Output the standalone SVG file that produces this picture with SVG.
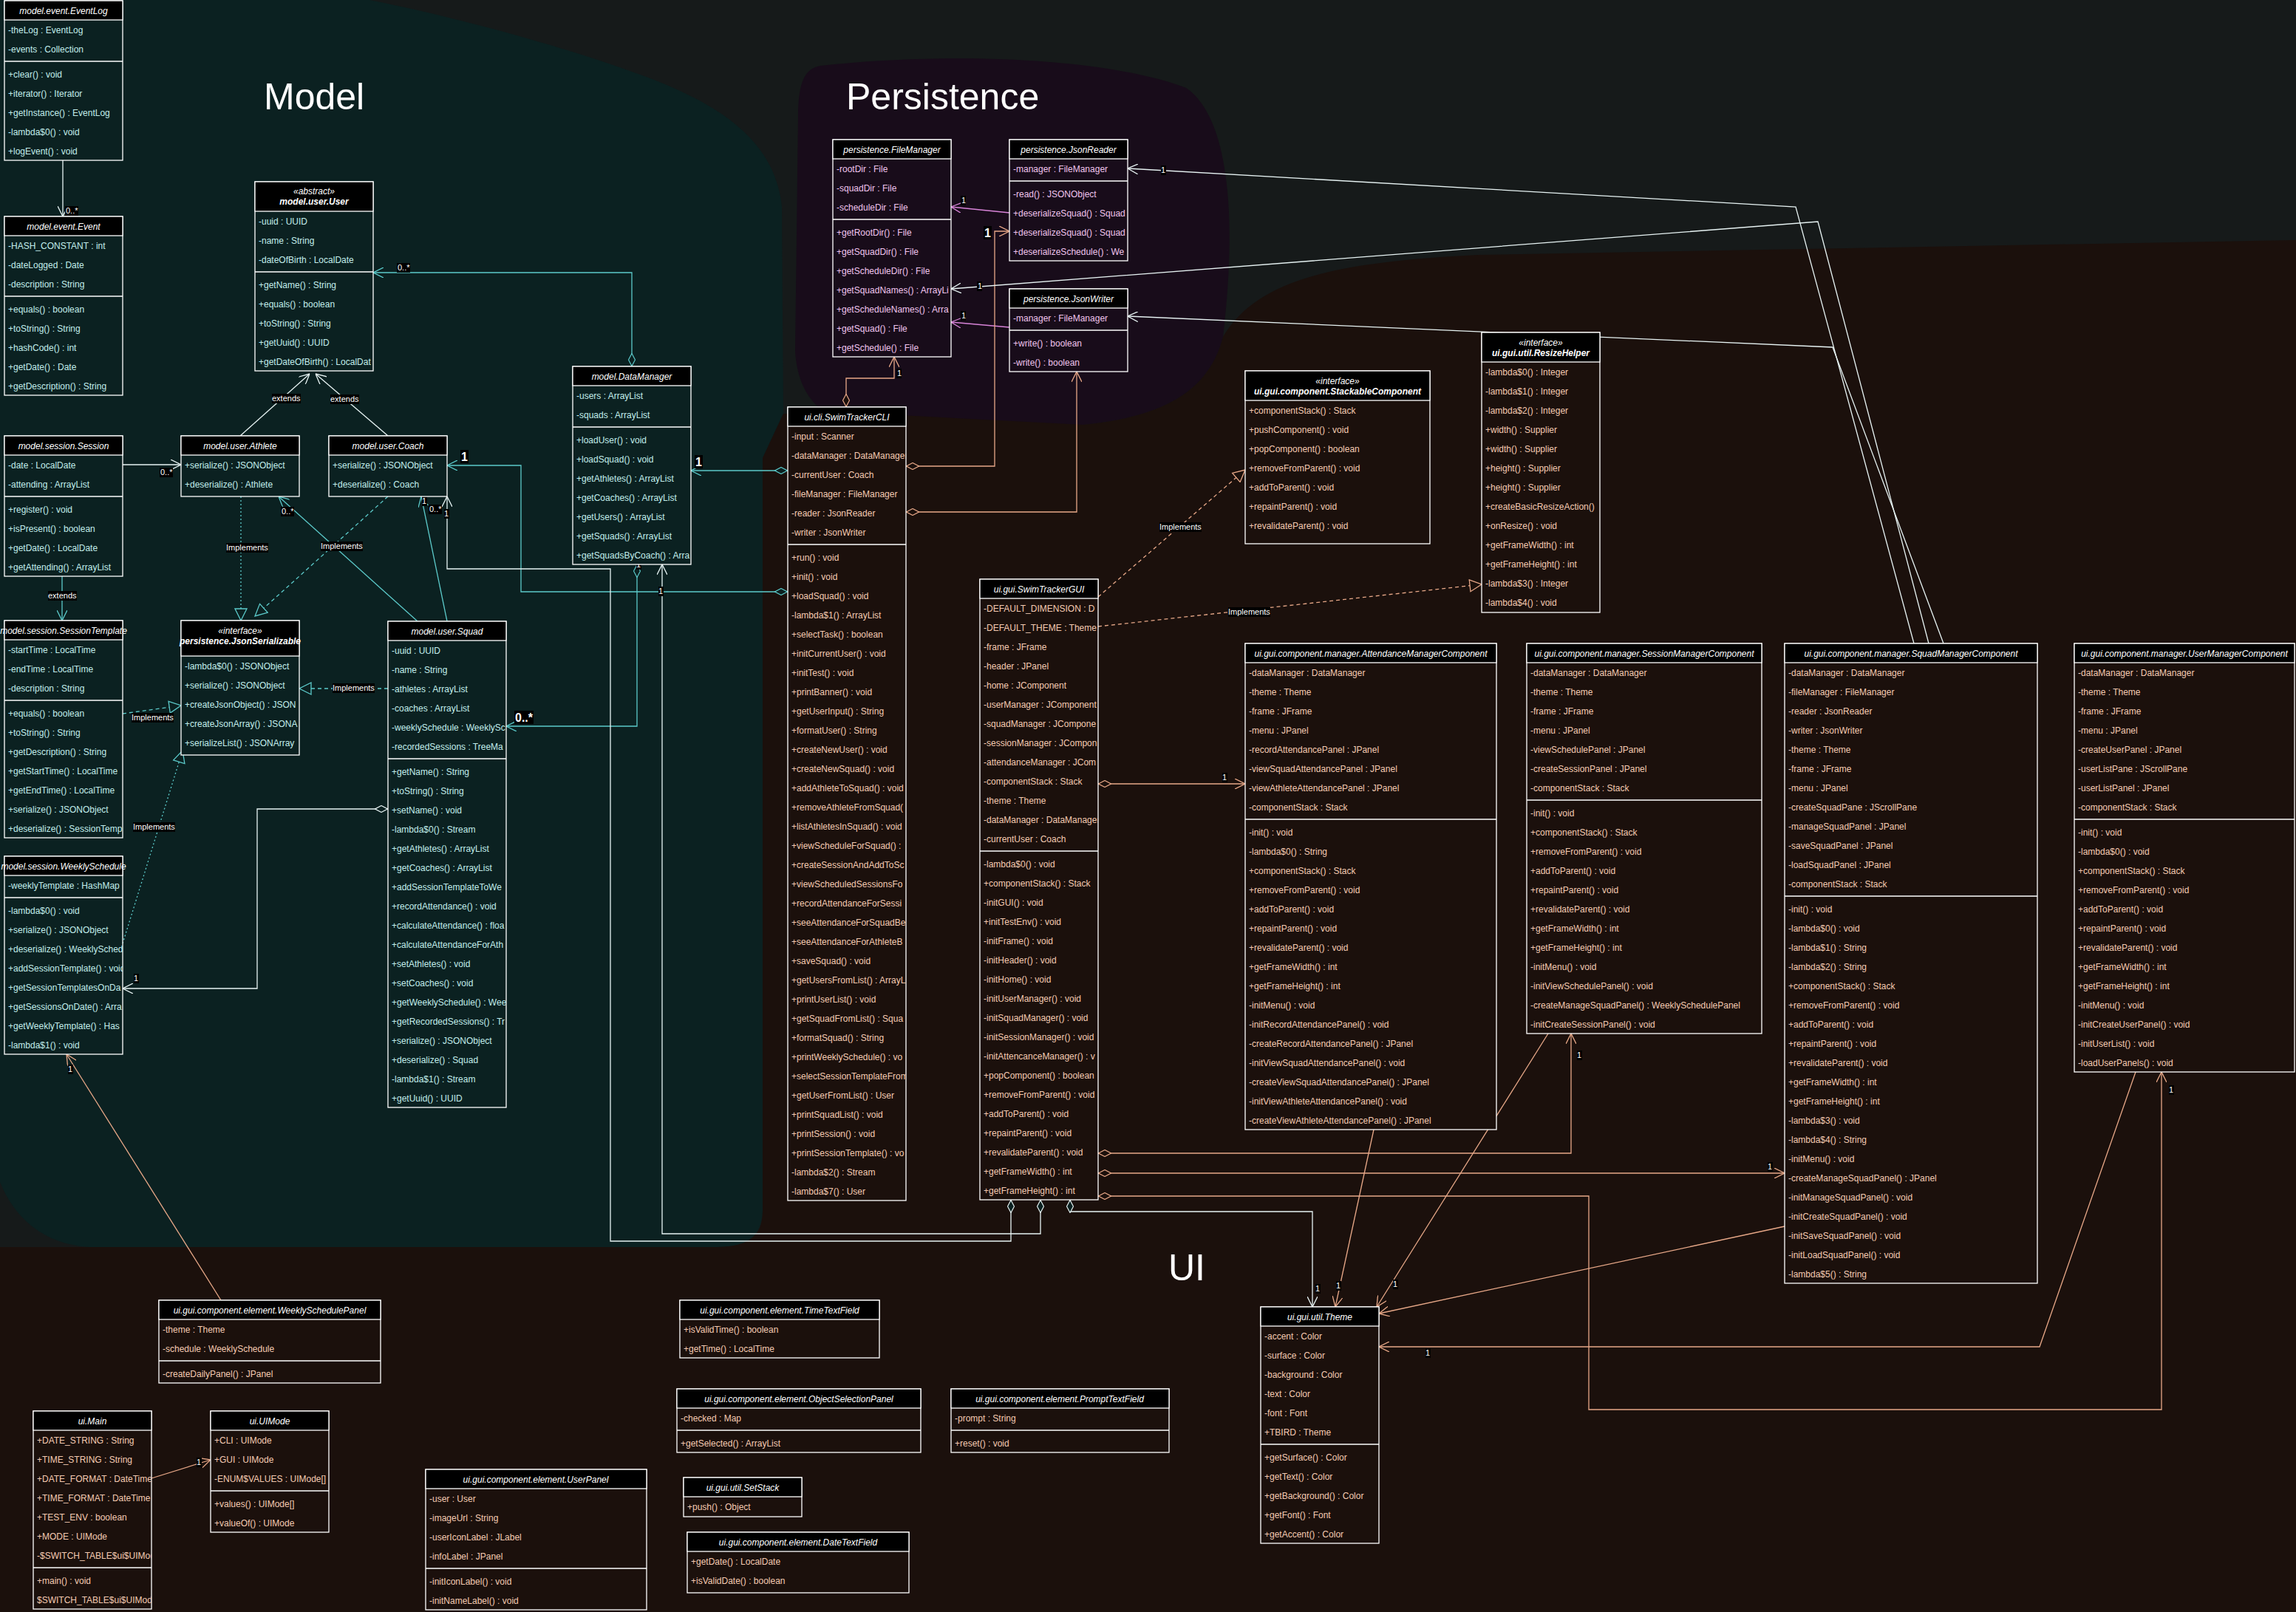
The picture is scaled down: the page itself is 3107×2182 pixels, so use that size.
<svg xmlns="http://www.w3.org/2000/svg" width="3107" height="2182" viewBox="0 0 3107 2182">
<style>
.b{stroke:#fff;stroke-width:1.3}
.h{fill:#000;stroke:#fff;stroke-width:1.3}
.s{stroke:#fff;stroke-width:1.3}
.fm{fill:#0b2121}.fp{fill:#180c1a}.fu{fill:#1b100c}
.ht{font-family:"Liberation Sans",Arial,sans-serif;font-size:12px;font-style:italic;fill:#fff;text-anchor:middle}
.hb{font-weight:bold}
.t{font-family:"Liberation Sans",Arial,sans-serif;font-size:12px}
.m{fill:#c2eeec}.p{fill:#f0c4ee}.u{fill:#f5cbb2}
.c{fill:none;stroke-width:1.3}
.cw{stroke:#e8f4f4}.ct{stroke:#5ccaca}.cp{stroke:#d884d8}.co{stroke:#e8a888}
.dsh{stroke-dasharray:5 4}.dot{stroke-dasharray:2 3}
.lb{font-family:"Liberation Sans",Arial,sans-serif;font-size:11px;fill:#fff}
.lg{font-size:16px;font-weight:bold}
.lbg{fill:#000}
.big{font-family:"Liberation Sans",Arial,sans-serif;font-size:50px;fill:#fff}
</style>
<defs>
<marker id="aw" viewBox="0 0 14 14" refX="14" refY="7" markerWidth="14" markerHeight="14" markerUnits="userSpaceOnUse" orient="auto"><path d="M0,0 L14,7 L0,14" fill="none" stroke="#e8f4f4" stroke-width="1.3"/></marker>
<marker id="at" viewBox="0 0 14 14" refX="14" refY="7" markerWidth="14" markerHeight="14" markerUnits="userSpaceOnUse" orient="auto"><path d="M0,0 L14,7 L0,14" fill="none" stroke="#5ccaca" stroke-width="1.3"/></marker>
<marker id="ap" viewBox="0 0 14 14" refX="14" refY="7" markerWidth="14" markerHeight="14" markerUnits="userSpaceOnUse" orient="auto"><path d="M0,0 L14,7 L0,14" fill="none" stroke="#d884d8" stroke-width="1.3"/></marker>
<marker id="ao" viewBox="0 0 14 14" refX="14" refY="7" markerWidth="14" markerHeight="14" markerUnits="userSpaceOnUse" orient="auto"><path d="M0,0 L14,7 L0,14" fill="none" stroke="#e8a888" stroke-width="1.3"/></marker>
<marker id="tt" viewBox="0 0 18 18" refX="17" refY="9" markerWidth="18" markerHeight="18" markerUnits="userSpaceOnUse" orient="auto"><path d="M1,1 L17,9 L1,17 Z" fill="#0b2121" stroke="#5ccaca" stroke-width="1.3"/></marker>
<marker id="to" viewBox="0 0 18 18" refX="17" refY="9" markerWidth="18" markerHeight="18" markerUnits="userSpaceOnUse" orient="auto"><path d="M1,1 L17,9 L1,17 Z" fill="#1b100c" stroke="#e8a888" stroke-width="1.3"/></marker>
<marker id="dw" viewBox="0 0 18 10" refX="0" refY="5" markerWidth="18" markerHeight="10" markerUnits="userSpaceOnUse" orient="auto"><path d="M0.5,5 L9,0.5 L17.5,5 L9,9.5 Z" fill="#0b2121" stroke="#e8f4f4" stroke-width="1.2"/></marker>
<marker id="dt" viewBox="0 0 18 10" refX="0" refY="5" markerWidth="18" markerHeight="10" markerUnits="userSpaceOnUse" orient="auto"><path d="M0.5,5 L9,0.5 L17.5,5 L9,9.5 Z" fill="#0b2121" stroke="#5ccaca" stroke-width="1.2"/></marker>
<marker id="do" viewBox="0 0 18 10" refX="0" refY="5" markerWidth="18" markerHeight="10" markerUnits="userSpaceOnUse" orient="auto"><path d="M0.5,5 L9,0.5 L17.5,5 L9,9.5 Z" fill="#1b100c" stroke="#e8a888" stroke-width="1.2"/></marker>
<clipPath id="kST"><rect x="6" y="840" width="160" height="294"/></clipPath>
<clipPath id="kWS"><rect x="6" y="1159" width="160" height="268"/></clipPath>
<clipPath id="kUS"><rect x="345" y="246" width="160" height="256"/></clipPath>
<clipPath id="kJS"><rect x="245" y="840" width="160" height="182"/></clipPath>
<clipPath id="kSQ"><rect x="525" y="841" width="160" height="658"/></clipPath>
<clipPath id="kDM"><rect x="775" y="496" width="160" height="268"/></clipPath>
<clipPath id="kFM"><rect x="1127" y="189" width="160" height="294"/></clipPath>
<clipPath id="kJR"><rect x="1366" y="189" width="160" height="164"/></clipPath>
<clipPath id="kCL"><rect x="1066" y="551" width="160" height="1074"/></clipPath>
<clipPath id="kGU"><rect x="1326" y="784" width="160" height="840"/></clipPath>
<clipPath id="kMA"><rect x="45" y="1910" width="160" height="268"/></clipPath>
</defs>

<g id="background">
<rect x="0" y="0" width="3107" height="2182" fill="#161a1a"/>
<path d="M0,0 L500,0 C600,20 760,60 890,110 C990,150 1050,200 1058,280 L1060,560 L1032,620 L1032,1640 C1030,1675 1010,1688 970,1688 L120,1688 C60,1684 20,1650 0,1600 Z" fill="#0b2121"/>
<path d="M1110,89 C1290,69 1500,79 1605,119 C1664,159 1674,297 1655,456 C1635,535 1565,565 1466,575 L1189,579 C1110,575 1080,535 1076,476 L1080,159 C1080,109 1090,93 1110,89 Z" fill="#180c1a"/>
<path d="M0,1688 L970,1688 C1010,1688 1032,1675 1032,1640 L1032,620 L1060,560 L1180,560 L1466,575 C1565,565 1635,535 1655,456 C1700,380 1800,355 2000,345 L3107,325 L3107,2182 L0,2182 Z" fill="#1b100c"/>
<text class="big" x="357" y="148">Model</text>
<text class="big" x="1145" y="148">Persistence</text>
<text class="big" x="1581" y="1733">UI</text>
</g>

<g id="connectors">
<path class="c cw" d="M85,217 L85,293" marker-end="url(#aw)"/>
<path class="c cw" d="M166,629 L245,629" marker-end="url(#aw)"/>
<path class="c ct" d="M84,780 L84,840" marker-end="url(#at)"/>
<path class="c ct dsh" d="M166,966 L245,955" marker-end="url(#tt)"/>
<path class="c ct dot" d="M166,1277 L247,1016" marker-end="url(#tt)"/>
<path class="c cw" d="M525,1095 L348,1095 L348,1338 L166,1338" marker-start="url(#dw)" marker-end="url(#aw)"/>
<path class="c cw" d="M325,590 L419,506" marker-end="url(#aw)"/>
<path class="c cw" d="M525,590 L427,506" marker-end="url(#aw)"/>
<path class="c ct dot" d="M326,672 L326,840" marker-end="url(#tt)"/>
<path class="c ct dsh" d="M525,672 L345,834" marker-end="url(#tt)"/>
<path class="c ct" d="M565,841 L377,672" marker-end="url(#at)"/>
<path class="c ct" d="M605,841 L570,672" marker-end="url(#at)"/>
<path class="c ct dsh" d="M525,932 L405,932" marker-end="url(#tt)"/>
<path class="c ct" d="M855,496 L855,369 L505,369" marker-start="url(#dt)" marker-end="url(#at)"/>
<path class="c ct" d="M862,764 L862,983 L685,983" marker-start="url(#dt)" marker-end="url(#at)"/>
<path class="c ct" d="M1066,637 L935,637" marker-start="url(#dt)" marker-end="url(#at)"/>
<path class="c ct" d="M1066,801 L705,801 L705,630 L605,630" marker-start="url(#dt)" marker-end="url(#at)"/>
<path class="c cw" d="M1368,1624 L1368,1680 L826,1680 L826,770 L605,770 L605,672" marker-start="url(#dw)" marker-end="url(#aw)"/>
<path class="c cw" d="M1408,1624 L1408,1670 L896,1670 L896,764" marker-start="url(#dw)" marker-end="url(#aw)"/>
<path class="c cp" d="M1366,288 L1287,280" marker-end="url(#ap)"/>
<path class="c cp" d="M1366,443 L1287,436" marker-end="url(#ap)"/>
<path class="c co" d="M1145,551 L1145,512 L1210,512 L1210,483" marker-start="url(#do)" marker-end="url(#ao)"/>
<path class="c co" d="M1226,631 L1346,631 L1346,313 L1366,313" marker-start="url(#do)" marker-end="url(#ao)"/>
<path class="c co" d="M1226,693 L1457,693 L1457,503" marker-start="url(#do)" marker-end="url(#ao)"/>
<path class="c co dsh" d="M1486,808 L1685,636" marker-end="url(#to)"/>
<path class="c co dsh" d="M1486,848 L2005,791" marker-end="url(#to)"/>
<path class="c co" d="M1486,1061 L1685,1061" marker-start="url(#do)" marker-end="url(#ao)"/>
<path class="c co" d="M1486,1561 L2126,1561 L2126,1399" marker-start="url(#do)" marker-end="url(#ao)"/>
<path class="c co" d="M1486,1588 L2415,1588" marker-start="url(#do)" marker-end="url(#ao)"/>
<path class="c co" d="M1486,1619 L2150,1619 L2150,1908 L2925,1908 L2925,1451" marker-start="url(#do)" marker-end="url(#ao)"/>
<path class="c cw" d="M1448,1624 L1448,1640 L1776,1640 L1776,1769" marker-start="url(#dw)" marker-end="url(#aw)"/>
<path class="c co" d="M1859,1529 L1807,1769" marker-end="url(#ao)"/>
<path class="c co" d="M2095,1399 L1863,1769" marker-end="url(#ao)"/>
<path class="c co" d="M2415,1660 L1866,1778" marker-end="url(#ao)"/>
<path class="c co" d="M2890,1451 L2760,1823 L1866,1823" marker-end="url(#ao)"/>
<path class="c cw" d="M2590,871 L2430,280 L1526,228" marker-end="url(#aw)"/>
<path class="c cw" d="M2610,871 L2460,300 L1287,391" marker-end="url(#aw)"/>
<path class="c cw" d="M2630,871 L2480,470 L1526,428" marker-end="url(#aw)"/>
<path class="c co" d="M299,1760 L90,1427" marker-end="url(#ao)"/>
<path class="c co" d="M205,2001 L285,1976" marker-end="url(#ao)"/>
<g id="labels">
<rect class="lbg" x="88" y="279" width="18" height="13"/><text class="lb" x="89" y="289">0..*</text>
<rect class="lbg" x="216" y="633" width="18" height="13"/><text class="lb" x="217" y="643">0..*</text>
<rect class="lbg" x="65" y="800" width="39" height="13"/><text class="lb" x="65" y="810">extends</text>
<rect class="lbg" x="178" y="965" width="57" height="13"/><text class="lb" x="178" y="975">Implements</text>
<rect class="lbg" x="180" y="1113" width="57" height="13"/><text class="lb" x="180" y="1123">Implements</text>
<rect class="lbg" x="181" y="1318" width="7" height="13"/><text class="lb" x="181" y="1328">1</text>
<rect class="lbg" x="368" y="533" width="39" height="13"/><text class="lb" x="368" y="543">extends</text>
<rect class="lbg" x="447" y="534" width="39" height="13"/><text class="lb" x="447" y="544">extends</text>
<rect class="lbg" x="306" y="735" width="57" height="13"/><text class="lb" x="306" y="745">Implements</text>
<rect class="lbg" x="434" y="733" width="57" height="13"/><text class="lb" x="434" y="743">Implements</text>
<rect class="lbg" x="380" y="686" width="18" height="13"/><text class="lb" x="381" y="696">0..*</text>
<rect class="lbg" x="571" y="672" width="7" height="13"/><text class="lb" x="571" y="682">1</text>
<rect class="lbg" x="580" y="683" width="18" height="13"/><text class="lb" x="581" y="693">0..*</text>
<rect class="lbg" x="601" y="689" width="7" height="13"/><text class="lb" x="601" y="699">1</text>
<rect class="lbg" x="580" y="1026" width="7" height="11"/><text class="lb" x="580" y="1035">1</text>
<rect class="lbg" x="450" y="925" width="57" height="13"/><text class="lb" x="450" y="935">Implements</text>
<rect class="lbg" x="537" y="356" width="18" height="13"/><text class="lb" x="538" y="366">0..*</text>
<rect class="lbg" x="696" y="962" width="26" height="18"/><text class="lb lg" x="697" y="977">0..*</text>
<rect class="lbg" x="861" y="758" width="7" height="13"/><text class="lb" x="861" y="768">1</text>
<rect class="lbg" x="940" y="616" width="11" height="18"/><text class="lb lg" x="941" y="631">1</text>
<rect class="lbg" x="623" y="609" width="11" height="18"/><text class="lb lg" x="624" y="624">1</text>
<rect class="lbg" x="891" y="794" width="7" height="13"/><text class="lb" x="891" y="804">1</text>
<rect class="lbg" x="1300" y="265" width="7" height="13"/><text class="lb" x="1301" y="275">1</text>
<rect class="lbg" x="1300" y="421" width="7" height="13"/><text class="lb" x="1301" y="431">1</text>
<rect class="lbg" x="1322" y="381" width="7" height="13"/><text class="lb" x="1323" y="391">1</text>
<rect class="lbg" x="1213" y="499" width="7" height="13"/><text class="lb" x="1214" y="509">1</text>
<rect class="lbg" x="1331" y="306" width="11" height="18"/><text class="lb lg" x="1332" y="321">1</text>
<rect class="lbg" x="1569" y="707" width="57" height="13"/><text class="lb" x="1569" y="717">Implements</text>
<rect class="lbg" x="1662" y="822" width="57" height="13"/><text class="lb" x="1662" y="832">Implements</text>
<rect class="lbg" x="1654" y="1046" width="7" height="13"/><text class="lb" x="1654" y="1056">1</text>
<rect class="lbg" x="2134" y="1422" width="7" height="13"/><text class="lb" x="2134" y="1432">1</text>
<rect class="lbg" x="2392" y="1573" width="7" height="13"/><text class="lb" x="2392" y="1583">1</text>
<rect class="lbg" x="2935" y="1469" width="7" height="13"/><text class="lb" x="2935" y="1479">1</text>
<rect class="lbg" x="1780" y="1738" width="7" height="13"/><text class="lb" x="1780" y="1748">1</text>
<rect class="lbg" x="1808" y="1734" width="7" height="13"/><text class="lb" x="1808" y="1744">1</text>
<rect class="lbg" x="1885" y="1732" width="7" height="13"/><text class="lb" x="1885" y="1742">1</text>
<rect class="lbg" x="1929" y="1825" width="7" height="13"/><text class="lb" x="1929" y="1835">1</text>
<rect class="lbg" x="1571" y="224" width="7" height="13"/><text class="lb" x="1571" y="234">1</text>
<rect class="lbg" x="92" y="1441" width="7" height="13"/><text class="lb" x="92" y="1451">1</text>
<rect class="lbg" x="266" y="1973" width="7" height="13"/><text class="lb" x="266" y="1983">1</text>
</g>
</g>

<g id="EventLog">
<rect class="b fm" x="6" y="1" width="160" height="216"/><rect class="h" x="6" y="1" width="160" height="26"/>
<line class="s" x1="6" y1="83" x2="166" y2="83"/>
<text class="ht" x="86" y="18.5">model.event.EventLog</text>
<text class="t m" y="44.5"><tspan x="11">-theLog : EventLog</tspan><tspan x="11" dy="26">-events : Collection</tspan></text>
<text class="t m" y="104.5"><tspan x="11">+clear() : void</tspan><tspan x="11" dy="26">+iterator() : Iterator</tspan><tspan x="11" dy="26">+getInstance() : EventLog</tspan><tspan x="11" dy="26">-lambda$0() : void</tspan><tspan x="11" dy="26">+logEvent() : void</tspan></text>
</g>

<g id="Event">
<rect class="b fm" x="6" y="293" width="160" height="242"/><rect class="h" x="6" y="293" width="160" height="26"/>
<line class="s" x1="6" y1="401" x2="166" y2="401"/>
<text class="ht" x="86" y="310.5">model.event.Event</text>
<text class="t m" y="336.5"><tspan x="11">-HASH_CONSTANT : int</tspan><tspan x="11" dy="26">-dateLogged : Date</tspan><tspan x="11" dy="26">-description : String</tspan></text>
<text class="t m" y="422.5"><tspan x="11">+equals() : boolean</tspan><tspan x="11" dy="26">+toString() : String</tspan><tspan x="11" dy="26">+hashCode() : int</tspan><tspan x="11" dy="26">+getDate() : Date</tspan><tspan x="11" dy="26">+getDescription() : String</tspan></text>
</g>

<g id="Session">
<rect class="b fm" x="6" y="590" width="160" height="190"/><rect class="h" x="6" y="590" width="160" height="26"/>
<line class="s" x1="6" y1="672" x2="166" y2="672"/>
<text class="ht" x="86" y="607.5">model.session.Session</text>
<text class="t m" y="633.5"><tspan x="11">-date : LocalDate</tspan><tspan x="11" dy="26">-attending : ArrayList</tspan></text>
<text class="t m" y="693.5"><tspan x="11">+register() : void</tspan><tspan x="11" dy="26">+isPresent() : boolean</tspan><tspan x="11" dy="26">+getDate() : LocalDate</tspan><tspan x="11" dy="26">+getAttending() : ArrayList</tspan></text>
</g>

<g id="SessionTemplate">
<rect class="b fm" x="6" y="840" width="160" height="294"/><rect class="h" x="6" y="840" width="160" height="26"/>
<line class="s" x1="6" y1="948" x2="166" y2="948"/>
<text class="ht" x="86" y="857.5">model.session.SessionTemplate</text>
<g clip-path="url(#kST)">
<text class="t m" y="883.5"><tspan x="11">-startTime : LocalTime</tspan><tspan x="11" dy="26">-endTime : LocalTime</tspan><tspan x="11" dy="26">-description : String</tspan></text>
<text class="t m" y="969.5"><tspan x="11">+equals() : boolean</tspan><tspan x="11" dy="26">+toString() : String</tspan><tspan x="11" dy="26">+getDescription() : String</tspan><tspan x="11" dy="26">+getStartTime() : LocalTime</tspan><tspan x="11" dy="26">+getEndTime() : LocalTime</tspan><tspan x="11" dy="26">+serialize() : JSONObject</tspan><tspan x="11" dy="26">+deserialize() : SessionTemp</tspan></text>
</g>
</g>

<g id="WeeklySchedule">
<rect class="b fm" x="6" y="1159" width="160" height="268"/><rect class="h" x="6" y="1159" width="160" height="26"/>
<line class="s" x1="6" y1="1215" x2="166" y2="1215"/>
<text class="ht" x="86" y="1176.5">model.session.WeeklySchedule</text>
<g clip-path="url(#kWS)">
<text class="t m" y="1202.5"><tspan x="11">-weeklyTemplate : HashMap</tspan></text>
<text class="t m" y="1236.5"><tspan x="11">-lambda$0() : void</tspan><tspan x="11" dy="26">+serialize() : JSONObject</tspan><tspan x="11" dy="26">+deserialize() : WeeklySched</tspan><tspan x="11" dy="26">+addSessionTemplate() : void</tspan><tspan x="11" dy="26">+getSessionTemplatesOnDa</tspan><tspan x="11" dy="26">+getSessionsOnDate() : Arra</tspan><tspan x="11" dy="26">+getWeeklyTemplate() : Has</tspan><tspan x="11" dy="26">-lambda$1() : void</tspan></text>
</g>
</g>

<g id="User">
<rect class="b fm" x="345" y="246" width="160" height="256"/><rect class="h" x="345" y="246" width="160" height="40"/>
<line class="s" x1="345" y1="368" x2="505" y2="368"/>
<text class="ht" x="425" y="263">«abstract»</text>
<text class="ht hb" x="425" y="277">model.user.User</text>
<g clip-path="url(#kUS)">
<text class="t m" y="303.5"><tspan x="350">-uuid : UUID</tspan><tspan x="350" dy="26">-name : String</tspan><tspan x="350" dy="26">-dateOfBirth : LocalDate</tspan></text>
<text class="t m" y="389.5"><tspan x="350">+getName() : String</tspan><tspan x="350" dy="26">+equals() : boolean</tspan><tspan x="350" dy="26">+toString() : String</tspan><tspan x="350" dy="26">+getUuid() : UUID</tspan><tspan x="350" dy="26">+getDateOfBirth() : LocalDat</tspan></text>
</g>
</g>

<g id="Athlete">
<rect class="b fm" x="245" y="590" width="160" height="82"/><rect class="h" x="245" y="590" width="160" height="26"/>
<text class="ht" x="325" y="607.5">model.user.Athlete</text>
<text class="t m" y="633.5"><tspan x="250">+serialize() : JSONObject</tspan><tspan x="250" dy="26">+deserialize() : Athlete</tspan></text>
</g>

<g id="Coach">
<rect class="b fm" x="445" y="590" width="160" height="82"/><rect class="h" x="445" y="590" width="160" height="26"/>
<text class="ht" x="525" y="607.5">model.user.Coach</text>
<text class="t m" y="633.5"><tspan x="450">+serialize() : JSONObject</tspan><tspan x="450" dy="26">+deserialize() : Coach</tspan></text>
</g>

<g id="JsonSerializable">
<rect class="b fm" x="245" y="840" width="160" height="182"/><rect class="h" x="245" y="840" width="160" height="48"/>
<text class="ht" x="325" y="858">«interface»</text>
<text class="ht hb" x="325" y="872">persistence.JsonSerializable</text>
<g clip-path="url(#kJS)">
<text class="t m" y="905.5"><tspan x="250">-lambda$0() : JSONObject</tspan><tspan x="250" dy="26">+serialize() : JSONObject</tspan><tspan x="250" dy="26">+createJsonObject() : JSON</tspan><tspan x="250" dy="26">+createJsonArray() : JSONA</tspan><tspan x="250" dy="26">+serializeList() : JSONArray</tspan></text>
</g>
</g>

<g id="Squad">
<rect class="b fm" x="525" y="841" width="160" height="658"/><rect class="h" x="525" y="841" width="160" height="26"/>
<line class="s" x1="525" y1="1027" x2="685" y2="1027"/>
<text class="ht" x="605" y="858.5">model.user.Squad</text>
<g clip-path="url(#kSQ)">
<text class="t m" y="884.5"><tspan x="530">-uuid : UUID</tspan><tspan x="530" dy="26">-name : String</tspan><tspan x="530" dy="26">-athletes : ArrayList</tspan><tspan x="530" dy="26">-coaches : ArrayList</tspan><tspan x="530" dy="26">-weeklySchedule : WeeklySc</tspan><tspan x="530" dy="26">-recordedSessions : TreeMa</tspan></text>
<text class="t m" y="1048.5"><tspan x="530">+getName() : String</tspan><tspan x="530" dy="26">+toString() : String</tspan><tspan x="530" dy="26">+setName() : void</tspan><tspan x="530" dy="26">-lambda$0() : Stream</tspan><tspan x="530" dy="26">+getAthletes() : ArrayList</tspan><tspan x="530" dy="26">+getCoaches() : ArrayList</tspan><tspan x="530" dy="26">+addSessionTemplateToWe</tspan><tspan x="530" dy="26">+recordAttendance() : void</tspan><tspan x="530" dy="26">+calculateAttendance() : floa</tspan><tspan x="530" dy="26">+calculateAttendanceForAth</tspan><tspan x="530" dy="26">+setAthletes() : void</tspan><tspan x="530" dy="26">+setCoaches() : void</tspan><tspan x="530" dy="26">+getWeeklySchedule() : Wee</tspan><tspan x="530" dy="26">+getRecordedSessions() : Tr</tspan><tspan x="530" dy="26">+serialize() : JSONObject</tspan><tspan x="530" dy="26">+deserialize() : Squad</tspan><tspan x="530" dy="26">-lambda$1() : Stream</tspan><tspan x="530" dy="26">+getUuid() : UUID</tspan></text>
</g>
</g>

<g id="DataManager">
<rect class="b fm" x="775" y="496" width="160" height="268"/><rect class="h" x="775" y="496" width="160" height="26"/>
<line class="s" x1="775" y1="578" x2="935" y2="578"/>
<text class="ht" x="855" y="513.5">model.DataManager</text>
<g clip-path="url(#kDM)">
<text class="t m" y="539.5"><tspan x="780">-users : ArrayList</tspan><tspan x="780" dy="26">-squads : ArrayList</tspan></text>
<text class="t m" y="599.5"><tspan x="780">+loadUser() : void</tspan><tspan x="780" dy="26">+loadSquad() : void</tspan><tspan x="780" dy="26">+getAthletes() : ArrayList</tspan><tspan x="780" dy="26">+getCoaches() : ArrayList</tspan><tspan x="780" dy="26">+getUsers() : ArrayList</tspan><tspan x="780" dy="26">+getSquads() : ArrayList</tspan><tspan x="780" dy="26">+getSquadsByCoach() : Arra</tspan></text>
</g>
</g>

<g id="FileManager">
<rect class="b fp" x="1127" y="189" width="160" height="294"/><rect class="h" x="1127" y="189" width="160" height="26"/>
<line class="s" x1="1127" y1="297" x2="1287" y2="297"/>
<text class="ht" x="1207" y="206.5">persistence.FileManager</text>
<g clip-path="url(#kFM)">
<text class="t p" y="232.5"><tspan x="1132">-rootDir : File</tspan><tspan x="1132" dy="26">-squadDir : File</tspan><tspan x="1132" dy="26">-scheduleDir : File</tspan></text>
<text class="t p" y="318.5"><tspan x="1132">+getRootDir() : File</tspan><tspan x="1132" dy="26">+getSquadDir() : File</tspan><tspan x="1132" dy="26">+getScheduleDir() : File</tspan><tspan x="1132" dy="26">+getSquadNames() : ArrayLi</tspan><tspan x="1132" dy="26">+getScheduleNames() : Arra</tspan><tspan x="1132" dy="26">+getSquad() : File</tspan><tspan x="1132" dy="26">+getSchedule() : File</tspan></text>
</g>
</g>

<g id="JsonReader">
<rect class="b fp" x="1366" y="189" width="160" height="164"/><rect class="h" x="1366" y="189" width="160" height="26"/>
<line class="s" x1="1366" y1="245" x2="1526" y2="245"/>
<text class="ht" x="1446" y="206.5">persistence.JsonReader</text>
<g clip-path="url(#kJR)">
<text class="t p" y="232.5"><tspan x="1371">-manager : FileManager</tspan></text>
<text class="t p" y="266.5"><tspan x="1371">-read() : JSONObject</tspan><tspan x="1371" dy="26">+deserializeSquad() : Squad</tspan><tspan x="1371" dy="26">+deserializeSquad() : Squad</tspan><tspan x="1371" dy="26">+deserializeSchedule() : We</tspan></text>
</g>
</g>

<g id="JsonWriter">
<rect class="b fp" x="1366" y="391" width="160" height="112"/><rect class="h" x="1366" y="391" width="160" height="26"/>
<line class="s" x1="1366" y1="447" x2="1526" y2="447"/>
<text class="ht" x="1446" y="408.5">persistence.JsonWriter</text>
<text class="t p" y="434.5"><tspan x="1371">-manager : FileManager</tspan></text>
<text class="t p" y="468.5"><tspan x="1371">+write() : boolean</tspan><tspan x="1371" dy="26">-write() : boolean</tspan></text>
</g>

<g id="SwimTrackerCLI">
<rect class="b fu" x="1066" y="551" width="160" height="1074"/><rect class="h" x="1066" y="551" width="160" height="26"/>
<line class="s" x1="1066" y1="737" x2="1226" y2="737"/>
<text class="ht" x="1146" y="568.5">ui.cli.SwimTrackerCLI</text>
<g clip-path="url(#kCL)">
<text class="t u" y="594.5"><tspan x="1071">-input : Scanner</tspan><tspan x="1071" dy="26">-dataManager : DataManager</tspan><tspan x="1071" dy="26">-currentUser : Coach</tspan><tspan x="1071" dy="26">-fileManager : FileManager</tspan><tspan x="1071" dy="26">-reader : JsonReader</tspan><tspan x="1071" dy="26">-writer : JsonWriter</tspan></text>
<text class="t u" y="758.5"><tspan x="1071">+run() : void</tspan><tspan x="1071" dy="26">+init() : void</tspan><tspan x="1071" dy="26">+loadSquad() : void</tspan><tspan x="1071" dy="26">-lambda$1() : ArrayList</tspan><tspan x="1071" dy="26">+selectTask() : boolean</tspan><tspan x="1071" dy="26">+initCurrentUser() : void</tspan><tspan x="1071" dy="26">+initTest() : void</tspan><tspan x="1071" dy="26">+printBanner() : void</tspan><tspan x="1071" dy="26">+getUserInput() : String</tspan><tspan x="1071" dy="26">+formatUser() : String</tspan><tspan x="1071" dy="26">+createNewUser() : void</tspan><tspan x="1071" dy="26">+createNewSquad() : void</tspan><tspan x="1071" dy="26">+addAthleteToSquad() : void</tspan><tspan x="1071" dy="26">+removeAthleteFromSquad(</tspan><tspan x="1071" dy="26">+listAthletesInSquad() : void</tspan><tspan x="1071" dy="26">+viewScheduleForSquad() :</tspan><tspan x="1071" dy="26">+createSessionAndAddToSc</tspan><tspan x="1071" dy="26">+viewScheduledSessionsFo</tspan><tspan x="1071" dy="26">+recordAttendanceForSessi</tspan><tspan x="1071" dy="26">+seeAttendanceForSquadBe</tspan><tspan x="1071" dy="26">+seeAttendanceForAthleteB</tspan><tspan x="1071" dy="26">+saveSquad() : void</tspan><tspan x="1071" dy="26">+getUsersFromList() : ArrayL</tspan><tspan x="1071" dy="26">+printUserList() : void</tspan><tspan x="1071" dy="26">+getSquadFromList() : Squa</tspan><tspan x="1071" dy="26">+formatSquad() : String</tspan><tspan x="1071" dy="26">+printWeeklySchedule() : vo</tspan><tspan x="1071" dy="26">+selectSessionTemplateFrom</tspan><tspan x="1071" dy="26">+getUserFromList() : User</tspan><tspan x="1071" dy="26">+printSquadList() : void</tspan><tspan x="1071" dy="26">+printSession() : void</tspan><tspan x="1071" dy="26">+printSessionTemplate() : vo</tspan><tspan x="1071" dy="26">-lambda$2() : Stream</tspan><tspan x="1071" dy="26">-lambda$7() : User</tspan></text>
</g>
</g>

<g id="SwimTrackerGUI">
<rect class="b fu" x="1326" y="784" width="160" height="840"/><rect class="h" x="1326" y="784" width="160" height="26"/>
<line class="s" x1="1326" y1="1152" x2="1486" y2="1152"/>
<text class="ht" x="1406" y="801.5">ui.gui.SwimTrackerGUI</text>
<g clip-path="url(#kGU)">
<text class="t u" y="827.5"><tspan x="1331">-DEFAULT_DIMENSION : D</tspan><tspan x="1331" dy="26">-DEFAULT_THEME : Theme</tspan><tspan x="1331" dy="26">-frame : JFrame</tspan><tspan x="1331" dy="26">-header : JPanel</tspan><tspan x="1331" dy="26">-home : JComponent</tspan><tspan x="1331" dy="26">-userManager : JComponent</tspan><tspan x="1331" dy="26">-squadManager : JCompone</tspan><tspan x="1331" dy="26">-sessionManager : JCompon</tspan><tspan x="1331" dy="26">-attendanceManager : JCom</tspan><tspan x="1331" dy="26">-componentStack : Stack</tspan><tspan x="1331" dy="26">-theme : Theme</tspan><tspan x="1331" dy="26">-dataManager : DataManager</tspan><tspan x="1331" dy="26">-currentUser : Coach</tspan></text>
<text class="t u" y="1173.5"><tspan x="1331">-lambda$0() : void</tspan><tspan x="1331" dy="26">+componentStack() : Stack</tspan><tspan x="1331" dy="26">-initGUI() : void</tspan><tspan x="1331" dy="26">+initTestEnv() : void</tspan><tspan x="1331" dy="26">-initFrame() : void</tspan><tspan x="1331" dy="26">-initHeader() : void</tspan><tspan x="1331" dy="26">-initHome() : void</tspan><tspan x="1331" dy="26">-initUserManager() : void</tspan><tspan x="1331" dy="26">-initSquadManager() : void</tspan><tspan x="1331" dy="26">-initSessionManager() : void</tspan><tspan x="1331" dy="26">-initAttencanceManager() : v</tspan><tspan x="1331" dy="26">+popComponent() : boolean</tspan><tspan x="1331" dy="26">+removeFromParent() : void</tspan><tspan x="1331" dy="26">+addToParent() : void</tspan><tspan x="1331" dy="26">+repaintParent() : void</tspan><tspan x="1331" dy="26">+revalidateParent() : void</tspan><tspan x="1331" dy="26">+getFrameWidth() : int</tspan><tspan x="1331" dy="26">+getFrameHeight() : int</tspan></text>
</g>
</g>

<g id="StackableComponent">
<rect class="b fu" x="1685" y="502" width="250" height="234"/><rect class="h" x="1685" y="502" width="250" height="40"/>
<text class="ht" x="1810" y="520">«interface»</text>
<text class="ht hb" x="1810" y="534">ui.gui.component.StackableComponent</text>
<text class="t u" y="559.5"><tspan x="1690">+componentStack() : Stack</tspan><tspan x="1690" dy="26">+pushComponent() : void</tspan><tspan x="1690" dy="26">+popComponent() : boolean</tspan><tspan x="1690" dy="26">+removeFromParent() : void</tspan><tspan x="1690" dy="26">+addToParent() : void</tspan><tspan x="1690" dy="26">+repaintParent() : void</tspan><tspan x="1690" dy="26">+revalidateParent() : void</tspan></text>
</g>

<g id="ResizeHelper">
<rect class="b fu" x="2005" y="450" width="160" height="379"/><rect class="h" x="2005" y="450" width="160" height="40"/>
<text class="ht" x="2085" y="468">«interface»</text>
<text class="ht hb" x="2085" y="482">ui.gui.util.ResizeHelper</text>
<text class="t u" y="507.5"><tspan x="2010">-lambda$0() : Integer</tspan><tspan x="2010" dy="26">-lambda$1() : Integer</tspan><tspan x="2010" dy="26">-lambda$2() : Integer</tspan><tspan x="2010" dy="26">+width() : Supplier</tspan><tspan x="2010" dy="26">+width() : Supplier</tspan><tspan x="2010" dy="26">+height() : Supplier</tspan><tspan x="2010" dy="26">+height() : Supplier</tspan><tspan x="2010" dy="26">+createBasicResizeAction()</tspan><tspan x="2010" dy="26">+onResize() : void</tspan><tspan x="2010" dy="26">+getFrameWidth() : int</tspan><tspan x="2010" dy="26">+getFrameHeight() : int</tspan><tspan x="2010" dy="26">-lambda$3() : Integer</tspan><tspan x="2010" dy="26">-lambda$4() : void</tspan></text>
</g>

<g id="AttendanceManagerComponent">
<rect class="b fu" x="1685" y="871" width="340" height="658"/><rect class="h" x="1685" y="871" width="340" height="26"/>
<line class="s" x1="1685" y1="1109" x2="2025" y2="1109"/>
<text class="ht" x="1855" y="888.5">ui.gui.component.manager.AttendanceManagerComponent</text>
<text class="t u" y="914.5"><tspan x="1690">-dataManager : DataManager</tspan><tspan x="1690" dy="26">-theme : Theme</tspan><tspan x="1690" dy="26">-frame : JFrame</tspan><tspan x="1690" dy="26">-menu : JPanel</tspan><tspan x="1690" dy="26">-recordAttendancePanel : JPanel</tspan><tspan x="1690" dy="26">-viewSquadAttendancePanel : JPanel</tspan><tspan x="1690" dy="26">-viewAthleteAttendancePanel : JPanel</tspan><tspan x="1690" dy="26">-componentStack : Stack</tspan></text>
<text class="t u" y="1130.5"><tspan x="1690">-init() : void</tspan><tspan x="1690" dy="26">-lambda$0() : String</tspan><tspan x="1690" dy="26">+componentStack() : Stack</tspan><tspan x="1690" dy="26">+removeFromParent() : void</tspan><tspan x="1690" dy="26">+addToParent() : void</tspan><tspan x="1690" dy="26">+repaintParent() : void</tspan><tspan x="1690" dy="26">+revalidateParent() : void</tspan><tspan x="1690" dy="26">+getFrameWidth() : int</tspan><tspan x="1690" dy="26">+getFrameHeight() : int</tspan><tspan x="1690" dy="26">-initMenu() : void</tspan><tspan x="1690" dy="26">-initRecordAttendancePanel() : void</tspan><tspan x="1690" dy="26">-createRecordAttendancePanel() : JPanel</tspan><tspan x="1690" dy="26">-initViewSquadAttendancePanel() : void</tspan><tspan x="1690" dy="26">-createViewSquadAttendancePanel() : JPanel</tspan><tspan x="1690" dy="26">-initViewAthleteAttendancePanel() : void</tspan><tspan x="1690" dy="26">-createViewAthleteAttendancePanel() : JPanel</tspan></text>
</g>

<g id="SessionManagerComponent">
<rect class="b fu" x="2066" y="871" width="318" height="528"/><rect class="h" x="2066" y="871" width="318" height="26"/>
<line class="s" x1="2066" y1="1083" x2="2384" y2="1083"/>
<text class="ht" x="2225" y="888.5">ui.gui.component.manager.SessionManagerComponent</text>
<text class="t u" y="914.5"><tspan x="2071">-dataManager : DataManager</tspan><tspan x="2071" dy="26">-theme : Theme</tspan><tspan x="2071" dy="26">-frame : JFrame</tspan><tspan x="2071" dy="26">-menu : JPanel</tspan><tspan x="2071" dy="26">-viewSchedulePanel : JPanel</tspan><tspan x="2071" dy="26">-createSessionPanel : JPanel</tspan><tspan x="2071" dy="26">-componentStack : Stack</tspan></text>
<text class="t u" y="1104.5"><tspan x="2071">-init() : void</tspan><tspan x="2071" dy="26">+componentStack() : Stack</tspan><tspan x="2071" dy="26">+removeFromParent() : void</tspan><tspan x="2071" dy="26">+addToParent() : void</tspan><tspan x="2071" dy="26">+repaintParent() : void</tspan><tspan x="2071" dy="26">+revalidateParent() : void</tspan><tspan x="2071" dy="26">+getFrameWidth() : int</tspan><tspan x="2071" dy="26">+getFrameHeight() : int</tspan><tspan x="2071" dy="26">-initMenu() : void</tspan><tspan x="2071" dy="26">-initViewSchedulePanel() : void</tspan><tspan x="2071" dy="26">-createManageSquadPanel() : WeeklySchedulePanel</tspan><tspan x="2071" dy="26">-initCreateSessionPanel() : void</tspan></text>
</g>

<g id="SquadManagerComponent">
<rect class="b fu" x="2415" y="871" width="342" height="866"/><rect class="h" x="2415" y="871" width="342" height="26"/>
<line class="s" x1="2415" y1="1213" x2="2757" y2="1213"/>
<text class="ht" x="2586" y="888.5">ui.gui.component.manager.SquadManagerComponent</text>
<text class="t u" y="914.5"><tspan x="2420">-dataManager : DataManager</tspan><tspan x="2420" dy="26">-fileManager : FileManager</tspan><tspan x="2420" dy="26">-reader : JsonReader</tspan><tspan x="2420" dy="26">-writer : JsonWriter</tspan><tspan x="2420" dy="26">-theme : Theme</tspan><tspan x="2420" dy="26">-frame : JFrame</tspan><tspan x="2420" dy="26">-menu : JPanel</tspan><tspan x="2420" dy="26">-createSquadPane : JScrollPane</tspan><tspan x="2420" dy="26">-manageSquadPanel : JPanel</tspan><tspan x="2420" dy="26">-saveSquadPanel : JPanel</tspan><tspan x="2420" dy="26">-loadSquadPanel : JPanel</tspan><tspan x="2420" dy="26">-componentStack : Stack</tspan></text>
<text class="t u" y="1234.5"><tspan x="2420">-init() : void</tspan><tspan x="2420" dy="26">-lambda$0() : void</tspan><tspan x="2420" dy="26">-lambda$1() : String</tspan><tspan x="2420" dy="26">-lambda$2() : String</tspan><tspan x="2420" dy="26">+componentStack() : Stack</tspan><tspan x="2420" dy="26">+removeFromParent() : void</tspan><tspan x="2420" dy="26">+addToParent() : void</tspan><tspan x="2420" dy="26">+repaintParent() : void</tspan><tspan x="2420" dy="26">+revalidateParent() : void</tspan><tspan x="2420" dy="26">+getFrameWidth() : int</tspan><tspan x="2420" dy="26">+getFrameHeight() : int</tspan><tspan x="2420" dy="26">-lambda$3() : void</tspan><tspan x="2420" dy="26">-lambda$4() : String</tspan><tspan x="2420" dy="26">-initMenu() : void</tspan><tspan x="2420" dy="26">-createManageSquadPanel() : JPanel</tspan><tspan x="2420" dy="26">-initManageSquadPanel() : void</tspan><tspan x="2420" dy="26">-initCreateSquadPanel() : void</tspan><tspan x="2420" dy="26">-initSaveSquadPanel() : void</tspan><tspan x="2420" dy="26">-initLoadSquadPanel() : void</tspan><tspan x="2420" dy="26">-lambda$5() : String</tspan></text>
</g>

<g id="UserManagerComponent">
<rect class="b fu" x="2807" y="871" width="298" height="580"/><rect class="h" x="2807" y="871" width="298" height="26"/>
<line class="s" x1="2807" y1="1109" x2="3105" y2="1109"/>
<text class="ht" x="2956" y="888.5">ui.gui.component.manager.UserManagerComponent</text>
<text class="t u" y="914.5"><tspan x="2812">-dataManager : DataManager</tspan><tspan x="2812" dy="26">-theme : Theme</tspan><tspan x="2812" dy="26">-frame : JFrame</tspan><tspan x="2812" dy="26">-menu : JPanel</tspan><tspan x="2812" dy="26">-createUserPanel : JPanel</tspan><tspan x="2812" dy="26">-userListPane : JScrollPane</tspan><tspan x="2812" dy="26">-userListPanel : JPanel</tspan><tspan x="2812" dy="26">-componentStack : Stack</tspan></text>
<text class="t u" y="1130.5"><tspan x="2812">-init() : void</tspan><tspan x="2812" dy="26">-lambda$0() : void</tspan><tspan x="2812" dy="26">+componentStack() : Stack</tspan><tspan x="2812" dy="26">+removeFromParent() : void</tspan><tspan x="2812" dy="26">+addToParent() : void</tspan><tspan x="2812" dy="26">+repaintParent() : void</tspan><tspan x="2812" dy="26">+revalidateParent() : void</tspan><tspan x="2812" dy="26">+getFrameWidth() : int</tspan><tspan x="2812" dy="26">+getFrameHeight() : int</tspan><tspan x="2812" dy="26">-initMenu() : void</tspan><tspan x="2812" dy="26">-initCreateUserPanel() : void</tspan><tspan x="2812" dy="26">-initUserList() : void</tspan><tspan x="2812" dy="26">-loadUserPanels() : void</tspan></text>
</g>

<g id="WeeklySchedulePanel">
<rect class="b fu" x="215" y="1760" width="300" height="112"/><rect class="h" x="215" y="1760" width="300" height="26"/>
<line class="s" x1="215" y1="1842" x2="515" y2="1842"/>
<text class="ht" x="365" y="1777.5">ui.gui.component.element.WeeklySchedulePanel</text>
<text class="t u" y="1803.5"><tspan x="220">-theme : Theme</tspan><tspan x="220" dy="26">-schedule : WeeklySchedule</tspan></text>
<text class="t u" y="1863.5"><tspan x="220">-createDailyPanel() : JPanel</tspan></text>
</g>

<g id="Main">
<rect class="b fu" x="45" y="1910" width="160" height="268"/><rect class="h" x="45" y="1910" width="160" height="26"/>
<line class="s" x1="45" y1="2122" x2="205" y2="2122"/>
<text class="ht" x="125" y="1927.5">ui.Main</text>
<g clip-path="url(#kMA)">
<text class="t u" y="1953.5"><tspan x="50">+DATE_STRING : String</tspan><tspan x="50" dy="26">+TIME_STRING : String</tspan><tspan x="50" dy="26">+DATE_FORMAT : DateTime</tspan><tspan x="50" dy="26">+TIME_FORMAT : DateTime</tspan><tspan x="50" dy="26">+TEST_ENV : boolean</tspan><tspan x="50" dy="26">+MODE : UIMode</tspan><tspan x="50" dy="26">-$SWITCH_TABLE$ui$UIMode</tspan></text>
<text class="t u" y="2143.5"><tspan x="50">+main() : void</tspan><tspan x="50" dy="26">$SWITCH_TABLE$ui$UIMode</tspan></text>
</g>
</g>

<g id="UIMode">
<rect class="b fu" x="285" y="1910" width="160" height="164"/><rect class="h" x="285" y="1910" width="160" height="26"/>
<line class="s" x1="285" y1="2018" x2="445" y2="2018"/>
<text class="ht" x="365" y="1927.5">ui.UIMode</text>
<text class="t u" y="1953.5"><tspan x="290">+CLI : UIMode</tspan><tspan x="290" dy="26">+GUI : UIMode</tspan><tspan x="290" dy="26">-ENUM$VALUES : UIMode[]</tspan></text>
<text class="t u" y="2039.5"><tspan x="290">+values() : UIMode[]</tspan><tspan x="290" dy="26">+valueOf() : UIMode</tspan></text>
</g>

<g id="UserPanel">
<rect class="b fu" x="576" y="1989" width="299" height="190"/><rect class="h" x="576" y="1989" width="299" height="26"/>
<line class="s" x1="576" y1="2123" x2="875" y2="2123"/>
<text class="ht" x="725" y="2006.5">ui.gui.component.element.UserPanel</text>
<text class="t u" y="2032.5"><tspan x="581">-user : User</tspan><tspan x="581" dy="26">-imageUrl : String</tspan><tspan x="581" dy="26">-userIconLabel : JLabel</tspan><tspan x="581" dy="26">-infoLabel : JPanel</tspan></text>
<text class="t u" y="2144.5"><tspan x="581">-initIconLabel() : void</tspan><tspan x="581" dy="26">-initNameLabel() : void</tspan></text>
</g>

<g id="TimeTextField">
<rect class="b fu" x="920" y="1760" width="270" height="78"/><rect class="h" x="920" y="1760" width="270" height="26"/>
<text class="ht" x="1055" y="1777.5">ui.gui.component.element.TimeTextField</text>
<text class="t u" y="1803.5"><tspan x="925">+isValidTime() : boolean</tspan><tspan x="925" dy="26">+getTime() : LocalTime</tspan></text>
</g>

<g id="ObjectSelectionPanel">
<rect class="b fu" x="916" y="1880" width="330" height="86"/><rect class="h" x="916" y="1880" width="330" height="26"/>
<line class="s" x1="916" y1="1936" x2="1246" y2="1936"/>
<text class="ht" x="1081" y="1897.5">ui.gui.component.element.ObjectSelectionPanel</text>
<text class="t u" y="1923.5"><tspan x="921">-checked : Map</tspan></text>
<text class="t u" y="1957.5"><tspan x="921">+getSelected() : ArrayList</tspan></text>
</g>

<g id="PromptTextField">
<rect class="b fu" x="1287" y="1880" width="295" height="86"/><rect class="h" x="1287" y="1880" width="295" height="26"/>
<line class="s" x1="1287" y1="1936" x2="1582" y2="1936"/>
<text class="ht" x="1434" y="1897.5">ui.gui.component.element.PromptTextField</text>
<text class="t u" y="1923.5"><tspan x="1292">-prompt : String</tspan></text>
<text class="t u" y="1957.5"><tspan x="1292">+reset() : void</tspan></text>
</g>

<g id="SetStack">
<rect class="b fu" x="925" y="2000" width="160" height="53"/><rect class="h" x="925" y="2000" width="160" height="26"/>
<text class="ht" x="1005" y="2017.5">ui.gui.util.SetStack</text>
<text class="t u" y="2043.5"><tspan x="930">+push() : Object</tspan></text>
</g>

<g id="DateTextField">
<rect class="b fu" x="930" y="2074" width="300" height="82"/><rect class="h" x="930" y="2074" width="300" height="26"/>
<text class="ht" x="1080" y="2091.5">ui.gui.component.element.DateTextField</text>
<text class="t u" y="2117.5"><tspan x="935">+getDate() : LocalDate</tspan><tspan x="935" dy="26">+isValidDate() : boolean</tspan></text>
</g>

<g id="Theme">
<rect class="b fu" x="1706" y="1769" width="160" height="320"/><rect class="h" x="1706" y="1769" width="160" height="26"/>
<line class="s" x1="1706" y1="1955" x2="1866" y2="1955"/>
<text class="ht" x="1786" y="1786.5">ui.gui.util.Theme</text>
<text class="t u" y="1812.5"><tspan x="1711">-accent : Color</tspan><tspan x="1711" dy="26">-surface : Color</tspan><tspan x="1711" dy="26">-background : Color</tspan><tspan x="1711" dy="26">-text : Color</tspan><tspan x="1711" dy="26">-font : Font</tspan><tspan x="1711" dy="26">+TBIRD : Theme</tspan></text>
<text class="t u" y="1976.5"><tspan x="1711">+getSurface() : Color</tspan><tspan x="1711" dy="26">+getText() : Color</tspan><tspan x="1711" dy="26">+getBackground() : Color</tspan><tspan x="1711" dy="26">+getFont() : Font</tspan><tspan x="1711" dy="26">+getAccent() : Color</tspan></text>
</g>
</svg>
